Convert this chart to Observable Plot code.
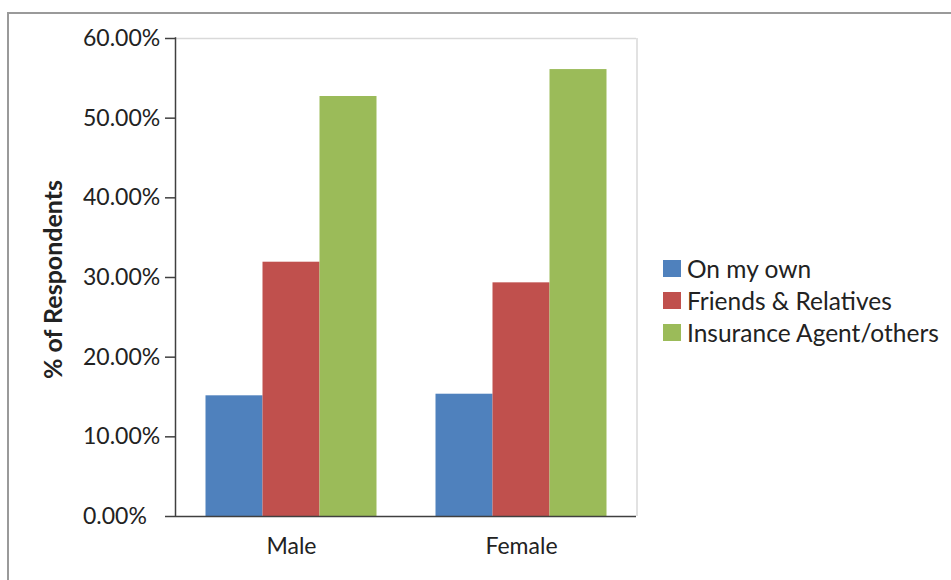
<!DOCTYPE html>
<html><head><meta charset="utf-8">
<script src="https://cdn.jsdelivr.net/npm/d3@7"></script>
<script src="https://cdn.jsdelivr.net/npm/@observablehq/plot@0.6"></script>
<style>
body{margin:0;background:#fff;font-family:Lato,sans-serif;}
#wrap{position:relative;width:951px;height:580px;overflow:hidden;background:#fff;}
#wrap svg{position:absolute;left:0;top:0;}
#border{position:absolute;left:7px;top:12px;width:2000px;height:2000px;border-left:2px solid #9a9a9a;border-top:2px solid #9a9a9a;pointer-events:none;}
#legend{position:absolute;left:663px;top:252px;font-size:24.5px;color:#222;font-family:Lato,sans-serif;}
#legend .row{display:flex;align-items:center;height:32px;white-space:nowrap;}
#legend .sw{display:inline-block;width:18px;height:17px;margin-right:6px;}
</style></head><body><div id="wrap"><div id="border"></div></div>
<script>
const genders = ["Male", "Female"];
const sources = ["On my own", "Friends & Relatives", "Insurance Agent/others"];
const maleValues = [15.15, 31.92, 52.72];
const femaleValues = [15.35, 29.33, 56.10];
const colors = ["#4F81BD", "#C0504D", "#9BBB59"];
const yTicks = [0, 10, 20, 30, 40, 50, 60];
const yTitle = "% of Respondents";

const data = [];
genders.forEach((g, i) => {
  const vals = i === 0 ? maleValues : femaleValues;
  sources.forEach((s, j) => data.push({gender: g, source: s, value: vals[j]}));
});

const W = 951, H = 580, mL = 175.5, mR = 314, mT = 38, mB = 64;
const chart = Plot.plot({
  width: W, height: H,
  marginLeft: mL, marginRight: mR, marginTop: mT, marginBottom: mB,
  style: {fontFamily: "Lato, sans-serif", fontSize: "23px", color: "#222", background: "transparent", overflow: "visible"},
  fx: {domain: genders, padding: 0, label: null, axis: "bottom", tickSize: 0, tickPadding: 21},
  x: {domain: sources, paddingInner: 0, paddingOuter: 0.5, axis: null},
  y: {domain: [0, 60], axis: null},
  color: {domain: sources, range: colors},
  marks: [
    Plot.ruleY([60], {stroke: "#d9d9d9", strokeWidth: 1.5}),
    Plot.barY(data, {fx: "gender", x: "source", y: "value", fill: "source"}),
    Plot.axisY(yTicks, {tickSize: 11, tickPadding: 82.5, textAnchor: "start",
      tickFormat: d => d.toFixed(2) + "%", label: null, stroke: "#404040", strokeWidth: 1.5}),
    Plot.ruleY([0], {stroke: "#404040", strokeWidth: 1.5}),
    Plot.text([yTitle], {fx: () => genders[0], text: d => d, frameAnchor: "left", textAnchor: "middle",
      rotate: -90, dx: -122.5, dy: 2, fontWeight: "bold", fontSize: 25, fill: "#222"})
  ]
});

const wrap = document.getElementById("wrap");
wrap.insertBefore(chart, wrap.firstChild);

// plot-area side lines
const y = chart.scale("y");
const svg = d3.select(chart);
svg.append("line")
  .attr("x1", W - mR).attr("x2", W - mR)
  .attr("y1", y.apply(0)).attr("y2", y.apply(60))
  .attr("stroke", "#d9d9d9").attr("stroke-width", 1.5);
svg.append("line")
  .attr("x1", mL).attr("x2", mL)
  .attr("y1", y.apply(0) + 0.75).attr("y2", y.apply(60) - 0.75)
  .attr("stroke", "#404040").attr("stroke-width", 1.5);

// legend
const legend = d3.select("#wrap").append("div").attr("id", "legend");
sources.forEach((s, i) => {
  const row = legend.append("div").attr("class", "row");
  row.append("span").attr("class", "sw").style("background", colors[i]);
  row.append("span").text(s);
});
</script>
</body></html>
